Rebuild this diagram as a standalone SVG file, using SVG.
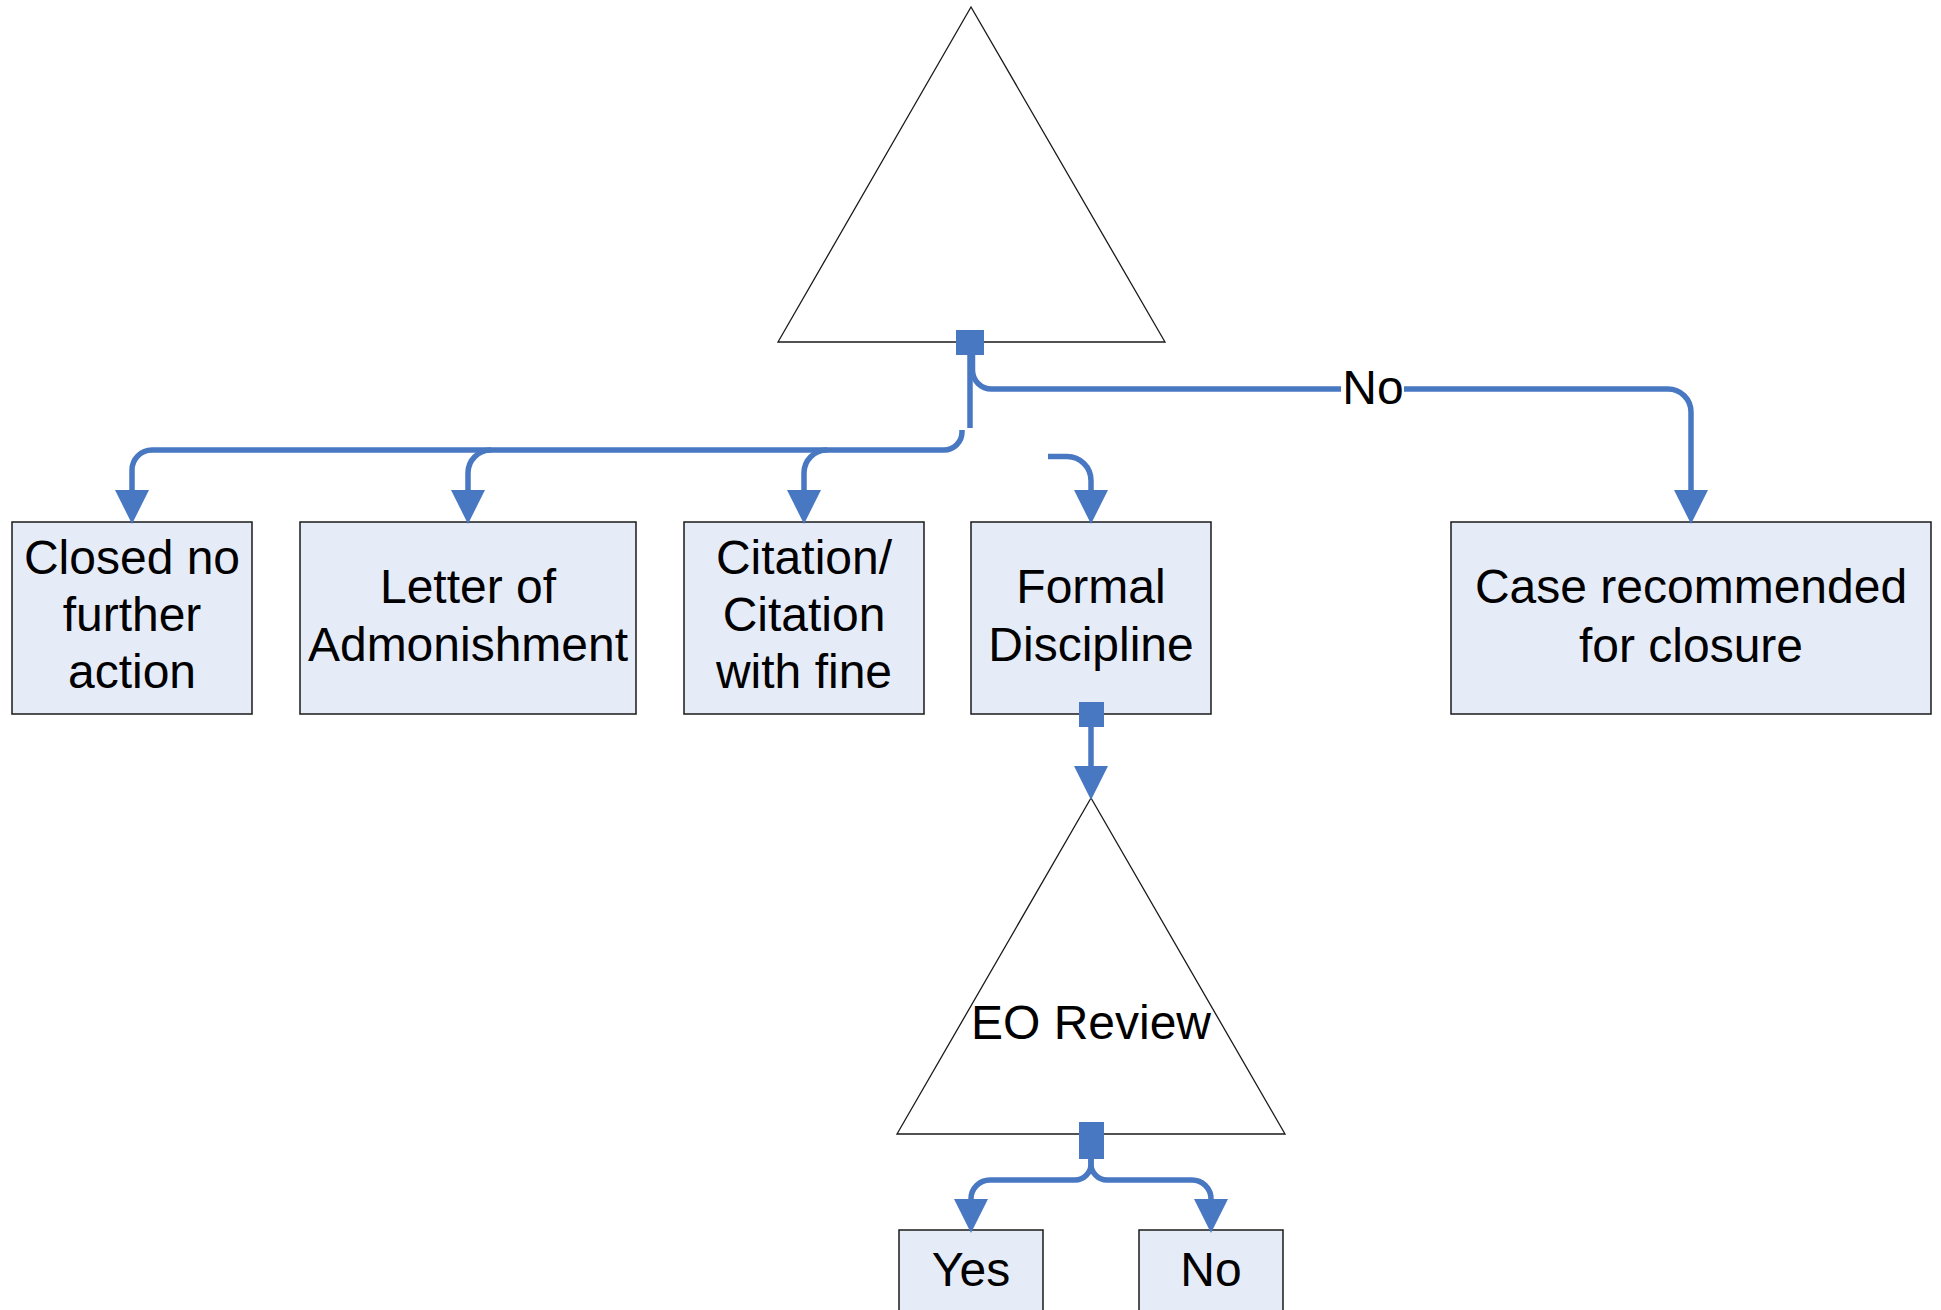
<svg xmlns="http://www.w3.org/2000/svg" width="1941" height="1310" viewBox="0 0 1941 1310">
<style>
  .box { fill: #E6ECF7; stroke: #1a1a1a; stroke-width: 1.5; }
  .tri { fill: #FFFFFF; stroke: #1a1a1a; stroke-width: 1.3; }
  .lbl { font-family: "Liberation Sans", Arial, sans-serif; font-size: 48px; fill: #000; text-anchor: middle; }
  .conn { fill: none; stroke: #4878C1; stroke-width: 5.5; }
  .dot { fill: #4878C1; }
</style>
<defs>
  <marker id="arr" markerUnits="userSpaceOnUse" markerWidth="34" markerHeight="34" refX="0" refY="16" orient="auto" viewBox="0 0 32 32">
    <path d="M0,0 L32,16 L0,32 Z" fill="#4878C1"/>
  </marker>
</defs>
<rect width="1941" height="1310" fill="#FFFFFF"/>

<g id="node-top">
  <polygon class="tri" points="971,7 778,342 1165,342"/>
</g>
<g id="node-closed">
  <rect class="box" x="12" y="522" width="240" height="192"/>
  <text class="lbl" x="132" y="574">Closed no</text>
  <text class="lbl" x="132" y="631">further</text>
  <text class="lbl" x="132" y="688">action</text>
</g>
<g id="node-letter">
  <rect class="box" x="300" y="522" width="336" height="192"/>
  <text class="lbl" x="468" y="603">Letter of</text>
  <text class="lbl" x="468" y="661">Admonishment</text>
</g>
<g id="node-citation">
  <rect class="box" x="684" y="522" width="240" height="192"/>
  <text class="lbl" x="804" y="574">Citation/</text>
  <text class="lbl" x="804" y="631">Citation</text>
  <text class="lbl" x="804" y="688">with fine</text>
</g>
<g id="node-formal">
  <rect class="box" x="971" y="522" width="240" height="192"/>
  <text class="lbl" x="1091" y="603">Formal</text>
  <text class="lbl" x="1091" y="661">Discipline</text>
</g>
<g id="node-case">
  <rect class="box" x="1451" y="522" width="480" height="192"/>
  <text class="lbl" x="1691" y="603">Case recommended</text>
  <text class="lbl" x="1691" y="662">for closure</text>
</g>
<g id="node-eo">
  <polygon class="tri" points="1091,798 897,1134 1285,1134"/>
  <text class="lbl" x="1091" y="1039">EO Review</text>
</g>
<g id="node-yes">
  <rect class="box" x="899" y="1230" width="144" height="100"/>
  <text class="lbl" x="971" y="1286">Yes</text>
</g>
<g id="node-no">
  <rect class="box" x="1139" y="1230" width="144" height="100"/>
  <text class="lbl" x="1211" y="1286">No</text>
</g>

<g id="connectors">
  <path class="conn" d="M970,355 V428" stroke-width="10"/>
  <path class="conn" d="M962,430 V432 A18,18 0 0 1 944,450 H152 A20,20 0 0 0 132,470 V490" marker-end="url(#arr)"/>
  <path class="conn" d="M491,450 A23,23 0 0 0 468,473 V490" marker-end="url(#arr)"/>
  <path class="conn" d="M827,450 A23,23 0 0 0 804,473 V490" marker-end="url(#arr)"/>
  <path class="conn" d="M1048,456.5 H1067 A24,24 0 0 1 1091,480.5 V490" marker-end="url(#arr)"/>
  <path class="conn" d="M972.5,355 V370 A19,19 0 0 0 991.5,389 H1668 A23,23 0 0 1 1691,412 V490" marker-end="url(#arr)"/>
  <rect x="1341" y="368" width="63" height="42" fill="#FFFFFF"/>
  <text class="lbl" x="1373" y="404">No</text>
  <path class="conn" d="M1091,727 V766" marker-end="url(#arr)"/>
  <path class="conn" d="M1091,1159 V1164 A16,16 0 0 1 1075,1180 H990 A19,19 0 0 0 971,1199" marker-end="url(#arr)"/>
  <path class="conn" d="M1091,1159 V1164 A16,16 0 0 0 1107,1180 H1192 A19,19 0 0 1 1211,1199" marker-end="url(#arr)"/>
  <rect class="dot" x="956" y="330" width="28" height="25"/>
  <rect class="dot" x="1079" y="702" width="25" height="25"/>
  <rect class="dot" x="1079" y="1122" width="25" height="37"/>
</g>
</svg>
